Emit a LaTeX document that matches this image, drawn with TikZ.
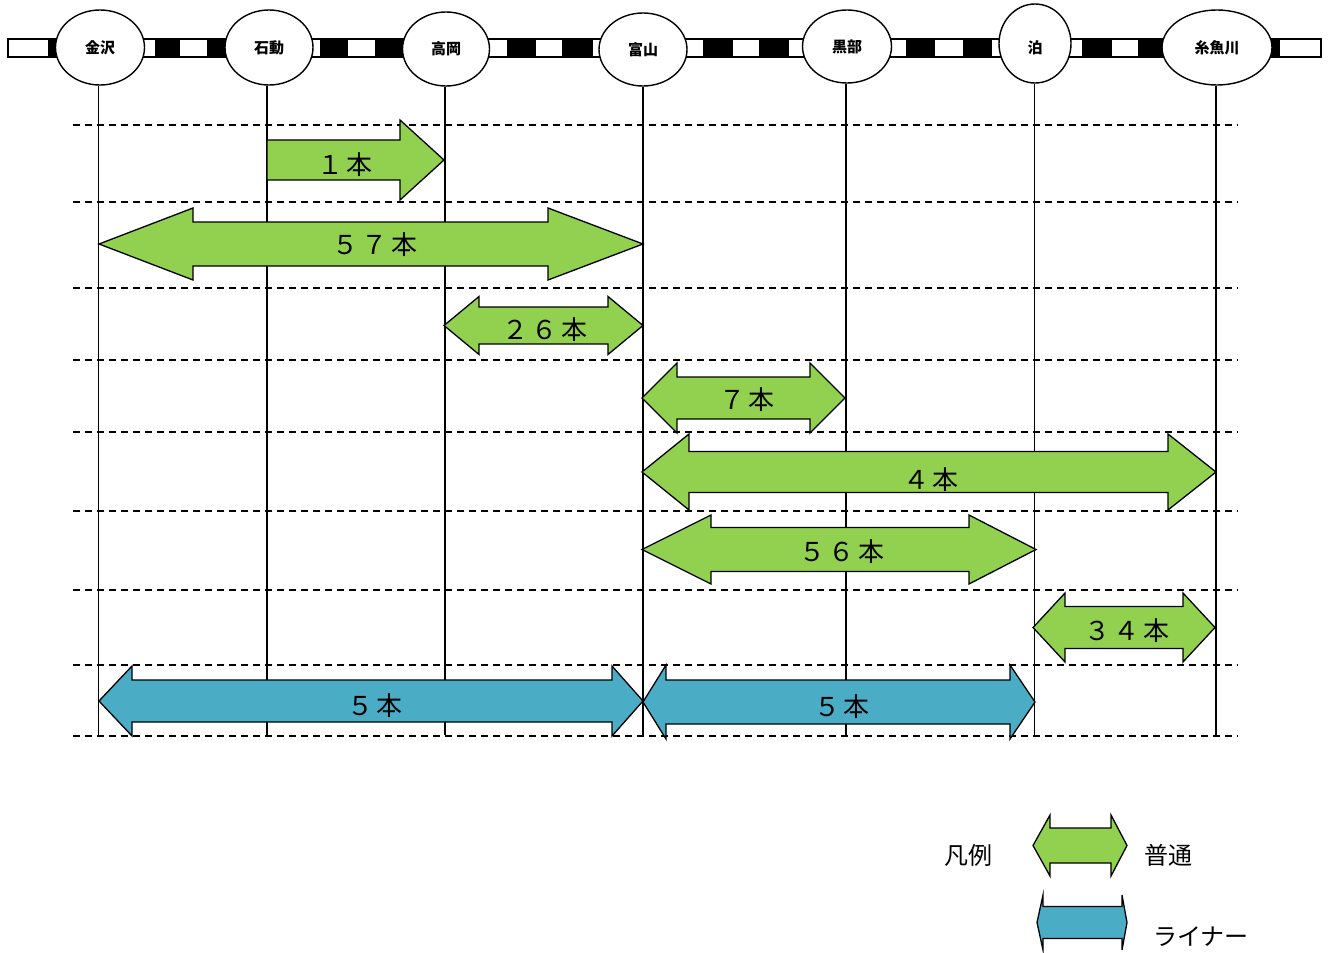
\documentclass[tikz,border=0pt]{standalone}
\usepackage{fontspec}
\newfontfamily\jp{Noto Sans CJK JP}
\newfontfamily\jpwide[LetterSpace=14]{Noto Sans CJK JP}
\usetikzlibrary{shapes.geometric}
\definecolor{futsu}{RGB}{146,208,80}
\definecolor{liner}{RGB}{75,172,198}
% double arrow: left tip x, left base x, right base x, right tip x, centre y, shaft half, head half, style
\newcommand\dblarr[8]{%
  \draw[#8] (#1,#5) -- (#2,#5-#7) -- (#2,#5-#6) -- (#3,#5-#6) -- (#3,#5-#7) -- (#4,#5)
    -- (#3,#5+#7) -- (#3,#5+#6) -- (#2,#5+#6) -- (#2,#5+#7) -- cycle;}
\begin{document}
\begin{tikzpicture}[x=1pt,y=-1pt,
  station/.style={ellipse,draw,fill=white,line width=1.4pt,inner sep=0pt,font=\jp\bfseries\fontsize{15}{15}\selectfont},
  stationtxt/.style={inner sep=0pt,font=\jp\bfseries\fontsize{15}{15}\selectfont},
  railseg/.style={fill=black},
  stemline/.style={line width=1.5pt},
  gridline/.style={line width=1.5pt,dash pattern=on 7pt off 5pt},
  greenarr/.style={fill=futsu,draw=black,line width=1.3pt,line join=miter},
  bluearr/.style={fill=liner,draw=black,line width=1.3pt,line join=miter},
  count/.style={font=\jpwide\fontsize{26}{26}\selectfont,inner sep=0pt},
  legendtxt/.style={font=\jp\fontsize{24}{24}\selectfont,inner sep=0pt}]
\useasboundingbox (0,0) rectangle (1329,952);
% rail band
\draw[fill=white,line width=1.3pt] (8,39) rectangle (1321,57);
\foreach \a/\b in {48/60,155/180,207/230,320/348,375/405,507/536,562/593,703/733,759/789,906/935,963/992,1082/1112,1138/1165,1265/1280}
  \fill[railseg] (\a,39.7) rectangle (\b,56.3);
% stations
\node[station,minimum width=89pt,minimum height=75pt] (kanazawa) at (100,47.5) {金沢};
\node[station,minimum width=88pt,minimum height=75pt] (isurugi) at (269,47.5) {石動};
\node[station,minimum width=87pt,minimum height=74pt] (takaoka) at (446,49) {高岡};
\node[station,minimum width=88pt,minimum height=73pt] (toyama) at (643,49.5) {富山};
\node[station,minimum width=89pt,minimum height=73pt] (kurobe) at (847,46.5) {黒部};
\node[station,minimum width=72pt,minimum height=79pt] (tomari) at (1035,43.5) {};
\node[stationtxt] (tomarilbl) at (1035,48) {泊};
\node[station,minimum width=110pt,minimum height=75pt] (itoigawa) at (1217,47.5) {糸魚川};
% stems
\coordinate (kzB) at (98.5,735);
\coordinate (isB) at (267,735);
\coordinate (tkB) at (445,735);
\coordinate (tyB) at (643,735);
\coordinate (kbB) at (846,735);
\coordinate (tmB) at (1034.5,735);
\coordinate (igB) at (1216,735);
\draw[stemline] (kzB) -- (kzB |- kanazawa.south);
\draw[stemline] (isB) -- (isB |- isurugi.south);
\draw[stemline] (tkB) -- (tkB |- takaoka.south);
\draw[stemline] (tyB) -- (tyB |- toyama.south);
\draw[stemline] (kbB) -- (kbB |- kurobe.south);
\draw[stemline] (tmB) -- (tmB |- tomari.south);
\draw[stemline] (igB) -- (igB |- itoigawa.south);
% dashed grid
\foreach \y in {125,202,288,360,432,511,590,665,736}
  \draw[gridline] (73,\y) -- (1238,\y);
% arrows
\draw[greenarr] (267,140) -- (400,140) -- (400,120) -- (444,160) -- (400,200) -- (400,180) -- (267,180) -- cycle;
\node[count] (c1) at (345,165) {１本};
\dblarr{99}{193}{548}{643}{244}{22}{36}{greenarr}
\node[count] (c57) at (375,245) {５７本};
\dblarr{444}{479}{608}{643}{325.5}{18.5}{29}{greenarr}
\node[count] (c26) at (545,330) {２６本};
\dblarr{642}{677}{810}{845}{398}{21}{35}{greenarr}
\node[count] (c7) at (747,400) {７本};
\dblarr{642}{689}{1168}{1216}{472}{20.5}{38}{greenarr}
\node[count] (c4) at (931,480) {４本};
\dblarr{642}{711}{969}{1036}{549.5}{22}{34.5}{greenarr}
\node[count] (c56) at (842,552) {５６本};
\dblarr{1033}{1065}{1183}{1215}{627.5}{21}{34.5}{greenarr}
\node[count] (c34) at (1127,631) {３４本};
\dblarr{99}{132}{612}{643}{701}{21}{35}{bluearr}
\node[count] (c5a) at (375,706) {５本};
\dblarr{643}{666}{1010}{1035}{702}{22}{37}{bluearr}
\node[count] (c5b) at (842,707) {５本};
% legend
\node[legendtxt] (hanrei) at (968,855) {凡例};
\dblarr{1033}{1050}{1111}{1127}{845.5}{17.5}{30.5}{greenarr}
\node[legendtxt] (futsulbl) at (1168,855) {普通};
\dblarr{1037}{1043}{1122}{1127}{922.5}{16}{27.5}{bluearr}
\node[legendtxt] (linerlbl) at (1201,937) {ライナー};
\end{tikzpicture}
\end{document}
